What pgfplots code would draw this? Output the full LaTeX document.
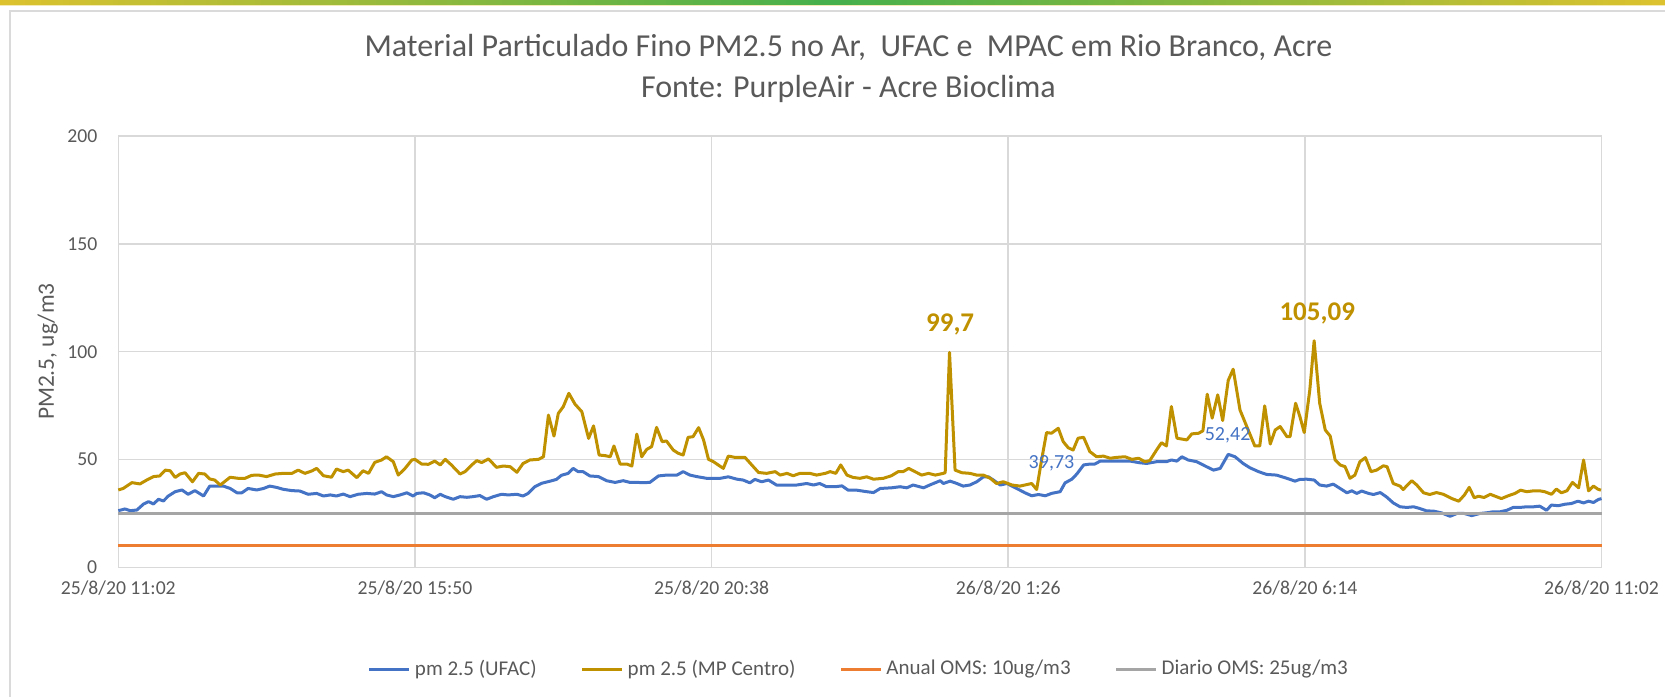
\documentclass[border=0pt]{standalone}
\usepackage{fontspec}
\setmainfont{Carlito}
\usepackage{pgfplots}
\pgfplotsset{compat=1.18}
\usepackage{pgfplotstable}
\usetikzlibrary{shadings}
\definecolor{cblue}{HTML}{4472C4}
\definecolor{cgold}{HTML}{BF9000}
\definecolor{corange}{HTML}{ED7D31}
\definecolor{cgray}{HTML}{A5A5A5}
\definecolor{textgray}{HTML}{595959}
\definecolor{gridgray}{HTML}{D9D9D9}
\definecolor{frame}{HTML}{DADADA}
\definecolor{barY}{HTML}{DDC22E}
\definecolor{barG}{HTML}{45B04C}

\pgfplotstableread{
h v
0.00 26.3
0.11 27.1
0.19 26.3
0.30 26.6
0.41 29.4
0.49 30.5
0.57 29.4
0.65 31.6
0.73 30.8
0.81 33.1
0.92 35.1
1.03 35.9
1.13 33.9
1.24 35.6
1.38 33.1
1.48 37.7
1.59 37.7
1.70 37.7
1.81 36.6
1.92 34.6
2.00 34.6
2.10 36.6
2.24 35.9
2.35 36.6
2.45 37.7
2.56 37.1
2.67 36.2
2.81 35.6
2.94 35.4
3.07 33.9
3.21 34.3
3.32 33.1
3.43 33.6
3.53 33.1
3.64 34.0
3.75 32.8
3.88 33.9
4.02 34.3
4.15 34.0
4.26 35.1
4.34 33.6
4.45 32.8
4.56 33.6
4.67 34.6
4.77 33.1
4.83 34.3
4.94 34.6
5.04 33.6
5.12 32.3
5.21 33.9
5.29 32.8
5.42 31.6
5.53 32.8
5.64 32.5
5.74 32.8
5.85 33.3
5.96 31.6
6.07 32.8
6.20 33.9
6.31 33.6
6.45 33.9
6.55 33.1
6.63 34.3
6.74 37.4
6.85 39.0
6.99 40.0
7.09 40.8
7.17 42.7
7.28 43.6
7.36 45.9
7.44 44.4
7.52 44.4
7.63 42.4
7.77 42.1
7.90 40.2
8.04 39.4
8.17 40.2
8.28 39.4
8.39 39.4
8.50 39.3
8.60 39.4
8.74 42.4
8.87 42.8
9.04 42.8
9.14 44.4
9.25 42.8
9.36 42.1
9.52 41.3
9.74 41.3
9.87 42.0
10.01 40.9
10.11 40.5
10.22 39.2
10.30 40.8
10.41 39.7
10.52 40.5
10.65 38.2
10.82 38.2
10.98 38.2
11.14 38.9
11.25 38.2
11.35 38.9
11.46 37.4
11.60 37.4
11.71 37.8
11.81 35.8
11.95 35.8
12.11 35.1
12.22 34.7
12.33 36.6
12.51 36.9
12.65 37.4
12.76 36.9
12.86 38.2
13.03 36.9
13.13 38.2
13.30 40.2
13.35 38.9
13.46 40.0
13.57 38.9
13.67 37.7
13.78 38.2
13.89 39.7
14.00 42.0
14.08 42.0
14.16 40.5
14.27 38.2
14.38 38.9
14.48 37.4
14.59 35.8
14.67 34.6
14.78 33.2
14.89 33.8
15.00 33.2
15.10 34.3
15.24 35.1
15.32 39.2
15.43 40.9
15.51 43.3
15.62 47.5
15.72 47.9
15.80 47.9
15.89 49.3
16.05 49.3
16.21 49.3
16.37 49.3
16.53 48.5
16.64 48.2
16.80 49.0
16.96 49.0
17.04 49.8
17.13 49.3
17.21 51.3
17.31 49.8
17.45 49.0
17.58 47.1
17.72 45.1
17.83 45.9
17.96 52.42
18.07 51.3
18.20 48.2
18.31 46.2
18.45 44.4
18.58 43.1
18.74 42.8
18.91 41.3
19.04 40.0
19.12 40.8
19.23 40.9
19.35 40.5
19.44 38.2
19.55 37.7
19.66 38.6
19.77 36.6
19.88 34.6
19.96 35.5
20.04 34.3
20.12 35.4
20.23 34.3
20.31 33.8
20.42 34.7
20.52 32.7
20.63 29.9
20.74 28.1
20.85 27.8
20.96 28.1
21.06 27.3
21.17 26.2
21.28 26.1
21.41 25.3
21.55 23.7
21.66 25.0
21.78 25.0
21.90 24.0
22.03 25.0
22.14 25.3
22.25 25.8
22.36 25.8
22.47 26.5
22.57 27.8
22.68 27.8
22.79 28.1
22.90 28.1
23.00 28.4
23.11 26.5
23.19 28.9
23.30 28.6
23.41 29.3
23.51 29.6
23.62 30.7
23.71 29.9
23.79 30.7
23.87 30.1
23.95 31.5
24.00 31.9
}\ufac

\pgfplotstableread{
h v
0.00 35.9
0.08 36.6
0.22 39.3
0.35 38.7
0.46 40.5
0.57 42.1
0.67 42.4
0.76 45.1
0.84 44.8
0.92 41.7
1.00 43.3
1.08 43.9
1.20 39.7
1.30 43.6
1.40 43.3
1.48 41.0
1.56 40.5
1.65 38.2
1.73 40.0
1.81 41.8
1.94 41.3
2.05 41.3
2.16 42.7
2.27 42.8
2.40 42.1
2.54 43.3
2.67 43.6
2.81 43.6
2.91 45.1
3.02 43.6
3.13 44.7
3.21 45.9
3.32 42.5
3.45 41.8
3.53 45.6
3.64 44.4
3.72 45.1
3.86 41.6
3.96 44.8
4.05 43.6
4.15 48.7
4.26 49.8
4.34 51.3
4.45 49.0
4.53 42.8
4.64 45.9
4.75 49.8
4.80 50.1
4.91 47.9
5.02 47.8
5.12 49.3
5.21 47.5
5.29 50.1
5.39 47.5
5.53 43.3
5.61 44.4
5.72 47.5
5.80 49.5
5.88 48.6
5.99 50.3
6.12 46.4
6.23 47.0
6.34 46.7
6.45 44.1
6.55 48.2
6.66 49.8
6.80 50.1
6.88 51.3
6.96 70.6
7.05 60.9
7.12 71.4
7.20 74.5
7.29 80.7
7.39 75.7
7.50 72.2
7.61 59.8
7.69 65.6
7.78 52.1
7.88 51.8
7.96 51.3
8.02 56.3
8.12 47.9
8.23 47.9
8.31 47.0
8.39 61.8
8.47 51.3
8.55 54.7
8.63 56.0
8.71 64.9
8.80 58.3
8.87 58.6
8.98 54.4
9.06 52.9
9.14 52.1
9.22 60.3
9.30 60.6
9.39 64.8
9.47 59.1
9.55 50.1
9.63 49.0
9.79 45.9
9.87 51.6
9.98 51.0
10.14 51.0
10.25 47.5
10.36 44.0
10.49 43.6
10.63 44.4
10.71 42.8
10.82 43.6
10.92 42.5
11.03 43.6
11.19 43.6
11.30 42.8
11.44 43.6
11.52 44.4
11.61 43.6
11.69 47.5
11.79 42.8
11.89 41.7
12.00 41.3
12.11 42.0
12.22 40.9
12.38 41.3
12.51 42.5
12.62 44.4
12.70 44.4
12.79 45.9
12.89 44.4
13.00 42.8
13.11 43.6
13.22 42.8
13.35 43.6
13.38 43.9
13.45 99.7
13.54 45.1
13.65 43.9
13.78 43.6
13.89 42.8
14.00 42.8
14.11 41.3
14.21 38.9
14.32 39.7
14.46 38.2
14.59 37.7
14.67 38.2
14.78 38.9
14.86 36.1
14.94 49.8
15.02 62.5
15.10 62.2
15.21 64.5
15.29 58.3
15.37 55.5
15.45 54.4
15.53 59.9
15.62 60.3
15.72 53.7
15.83 51.3
15.94 51.6
16.05 50.6
16.15 51.0
16.29 51.3
16.40 50.1
16.51 50.6
16.61 49.0
16.69 49.5
16.80 54.4
16.88 57.8
16.96 56.3
17.04 74.6
17.13 59.9
17.23 59.4
17.29 59.1
17.37 61.9
17.48 62.2
17.55 63.3
17.62 80.3
17.70 69.2
17.79 80.0
17.87 68.1
17.96 86.7
18.04 91.9
18.15 73.0
18.26 65.3
18.39 56.3
18.47 56.3
18.55 74.9
18.64 57.2
18.72 63.7
18.80 65.3
18.91 60.6
18.96 60.6
19.05 76.1
19.12 69.9
19.19 62.5
19.28 82.3
19.35 105.09
19.44 76.1
19.53 63.7
19.61 60.9
19.69 49.8
19.77 47.5
19.85 46.7
19.93 41.3
20.01 42.8
20.09 49.0
20.18 50.9
20.27 44.4
20.36 45.1
20.47 47.1
20.53 46.7
20.63 38.9
20.74 37.7
20.79 36.1
20.93 40.2
21.01 38.2
21.12 34.6
21.22 33.8
21.33 34.7
21.44 33.9
21.58 31.9
21.69 30.7
21.78 33.5
21.86 37.1
21.94 32.3
22.01 33.0
22.10 32.4
22.20 33.9
22.28 33.0
22.38 31.9
22.49 33.2
22.60 34.3
22.69 35.8
22.79 35.1
22.90 35.5
23.00 35.5
23.08 35.1
23.19 33.9
23.27 36.3
23.35 34.6
23.44 35.5
23.53 39.4
23.63 36.9
23.71 49.8
23.79 35.5
23.87 37.7
23.94 36.3
23.99 35.8
}\mpac

\begin{document}
\begin{tikzpicture}
\path[use as bounding box] (0,0) rectangle (832.5pt,348.5pt);
% top gradient bar
\shade[left color=barY, right color=barY, middle color=barG] (0,346.2pt) rectangle (832.5pt,348.5pt);
\fill[barY!35] (0,345.4pt) rectangle (832.5pt,346.2pt);
% chart area frame
\draw[frame, line width=1pt] (4.75pt,0) -- (4.75pt,343.1pt) -- (832.5pt,343.1pt);
% title
\node[anchor=base, text=textgray, font=\fontsize{16}{19}\selectfont] at (424.2pt,320pt)
  {Material Particulado Fino PM2.5 no Ar,\ \ UFAC e\ \ MPAC em Rio Branco, Acre};
\node[anchor=base, text=textgray, font=\fontsize{16}{19}\selectfont] at (424.2pt,299.6pt)
  {Fonte: PurpleAir - Acre Bioclima};
\begin{axis}[
  at={(59.15pt,64.8pt)}, anchor=south west,
  scale only axis, width=741.6pt, height=215.7pt,
  xmin=0, xmax=24, ymin=0, ymax=200,
  xtick={0,4.8,9.6,14.4,19.2,24},
  xticklabels={25/8/20 11:02,25/8/20 15:50,25/8/20 20:38,26/8/20 1:26,26/8/20 6:14,26/8/20 11:02},
  ytick={0,50,100,150,200},
  grid=major,
  major grid style={draw=gridgray, line width=0.75pt},
  axis line style={draw=gridgray, line width=0.75pt},
  tick style={draw=none},
  /pgf/number format/assume math mode=true,
  ticklabel style={font=\fontsize{9.85}{11}\selectfont, text=textgray},
  xticklabel style={yshift=-3pt},
  yticklabel style={xshift=-7pt},
  ylabel={PM2.5, ug/m3},
  ylabel style={at={(axis description cs:-0.0475,0.5)}, anchor=center, font=\fontsize{11.7}{13}\selectfont, text=textgray},
  legend columns=4,
  legend style={draw=none, fill=none, at={(axis description cs:0.5,-0.2355)}, anchor=center,
    font=\fontsize{10.5}{12}\selectfont, text=textgray,
    /tikz/every even column/.append style={column sep=20pt},
    /tikz/every odd column/.append style={column sep=0pt}},
  legend image code/.code={\draw[#1] (0pt,0pt) -- (20pt,0pt);},
  clip=false,
]
\addplot[cblue, line width=1.5pt, line join=round] table[x=h,y=v] {\ufac};
\addlegendentry{pm 2.5 (UFAC)}
\addplot[cgold, line width=1.5pt, line join=round] table[x=h,y=v] {\mpac};
\addlegendentry{pm 2.5 (MP Centro)}
\addplot[corange, line width=1.5pt] coordinates {(0,10) (24,10)};
\addlegendentry{Anual OMS: 10ug/m3}
\addplot[cgray, line width=1.5pt] coordinates {(0,25) (24,25)};
\addlegendentry{Diario OMS: 25ug/m3}
\node[text=cgold, font=\bfseries\fontsize{13.5}{15}\selectfont] at (axis cs:13.46,112.4) {99,7};
\node[text=cgold, font=\bfseries\fontsize{13.5}{15}\selectfont] at (axis cs:19.40,117.8) {105,09};
\node[text=cblue, font=\fontsize{10}{11}\selectfont] at (axis cs:15.10,48.3) {39,73};
\node[text=cblue, font=\fontsize{10}{11}\selectfont] at (axis cs:17.95,61.4) {52,42};
\end{axis}
\end{tikzpicture}
\end{document}
